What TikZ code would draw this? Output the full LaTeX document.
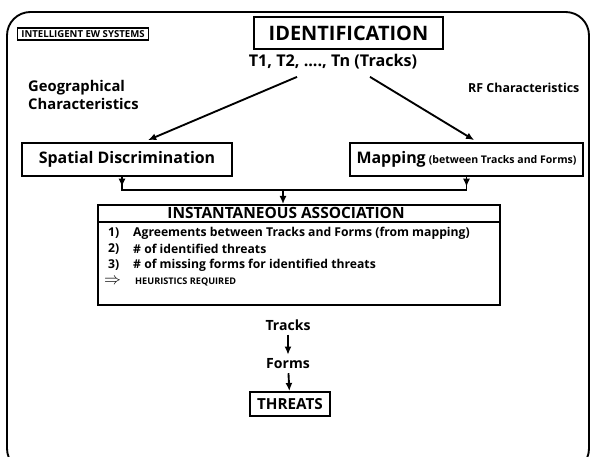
\documentclass[tikz,border=0pt]{standalone}
\usepackage{fontspec}
\setmainfont{Open Sans}
\usetikzlibrary{arrows.meta}

\begin{document}
\begin{tikzpicture}[
    x=0.03cm, y=-0.03cm,
    box/.style={draw, line width=1.5pt, inner sep=0pt, align=center},
    link/.style={line width=1.6pt},
    tip/.style={-{Latex[length=7pt,width=6pt]}},
    big/.style={font=\bfseries\fontsize{12}{14}\selectfont},
    small/.style={font=\bfseries\fontsize{10.4}{12}\selectfont, inner sep=0pt}
]
    \useasboundingbox (0,0) rectangle (592,457);
    % outer frame
    \draw[line width=1.6pt, rounded corners=20] (7,12) rectangle (589,472);

    \node[box, minimum width=3.93cm, minimum height=0.36cm, font=\bfseries\fontsize{8.2}{9}\selectfont] (ew) at (83,34) {INTELLIGENT EW SYSTEMS};
    \node[box, minimum width=5.67cm, minimum height=0.96cm, font=\bfseries\fontsize{17}{20}\selectfont] (ident) at (348.5,33) {IDENTIFICATION};

    \node[font=\bfseries\fontsize{13.8}{16}\selectfont] (tracklist) at (333,62) {T1, T2, ...., Tn (Tracks)};
    \node[big, font=\bfseries\fontsize{12.6}{15}\selectfont, anchor=north west, align=left, inner sep=0pt] (geo) at (28,80) {Geographical\\Characteristics};
    \node[big, font=\bfseries\fontsize{10.6}{13}\selectfont, anchor=west, inner sep=0pt] (rf) at (468,88) {RF Characteristics};

    \node[box, font=\bfseries\fontsize{13.6}{16}\selectfont, minimum width=6.3cm, minimum height=0.99cm] (spatial) at (127,159.5) {Spatial Discrimination};
    \node[box, minimum width=6.99cm, minimum height=0.99cm] (mapping) at (466.5,159.5)
        {{\bfseries\fontsize{13.6}{16}\selectfont Mapping} {\bfseries\fontsize{9}{10}\selectfont (between Tracks and Forms)}};

    \draw[link, tip] ([xshift=-1.08cm, yshift=-0.1cm]tracklist.south) -- ([xshift=0.63cm, yshift=0.06cm]spatial.north);
    \draw[link, tip] ([xshift=1.11cm, yshift=-0.1cm]tracklist.south) -- ([xshift=0.23cm, yshift=0.06cm]mapping.north);

    % association box with its header
    \node[box, minimum width=12.06cm, minimum height=3cm] (assoc) at (299,255) {};
    \draw[link] (assoc.west |- 0,222) -- (assoc.east |- 0,222);
    \node[font=\bfseries\fontsize{13.2}{15}\selectfont] (assoctitle) at (286,212.5) {INSTANTANEOUS ASSOCIATION};
    \node[small, anchor=west] (n1) at (108,233) {1)};
    \node[small, anchor=west] (i1) at (133,233) {Agreements between Tracks and Forms (from mapping)};
    \node[small, anchor=west] (n2) at (108,249) {2)};
    \node[small, anchor=west] (i2) at (133,249) {\# of identified threats};
    \node[small, anchor=west] (n3) at (108,265) {3)};
    \node[small, anchor=west] (i3) at (133,265) {\# of missing forms for identified threats};
    \node[small, anchor=west] (n4) at (104,284) {\smash{\Large$\Rightarrow$}};
    \node[small, anchor=west, font=\bfseries\fontsize{7.8}{9}\selectfont] (i4) at (135,282) {HEURISTICS REQUIRED};

    % bus between the two boxes
    \coordinate (bus) at (283,190);
    \draw[link] ([xshift=-0.15cm]spatial.south) |- (bus) -| (mapping.south);
    \draw[link, tip] ([xshift=-0.15cm]spatial.south) -- ++(0,10);
    \draw[link, tip] (mapping.south) -- ++(0,10);
    \draw[link, tip] (bus) -- (assoc.north -| bus);

    \node[big] (tracks) at (288,325) {Tracks};
    \node[big] (forms) at (288,364) {Forms};
    \node[box, font=\bfseries\fontsize{13}{15}\selectfont, minimum width=2.4cm, minimum height=0.72cm] (threats) at (290,404) {THREATS};
    \draw[link, tip] (tracks) -- (forms);
    \draw[link, tip] (forms) -- (threats);
\end{tikzpicture}
\end{document}
